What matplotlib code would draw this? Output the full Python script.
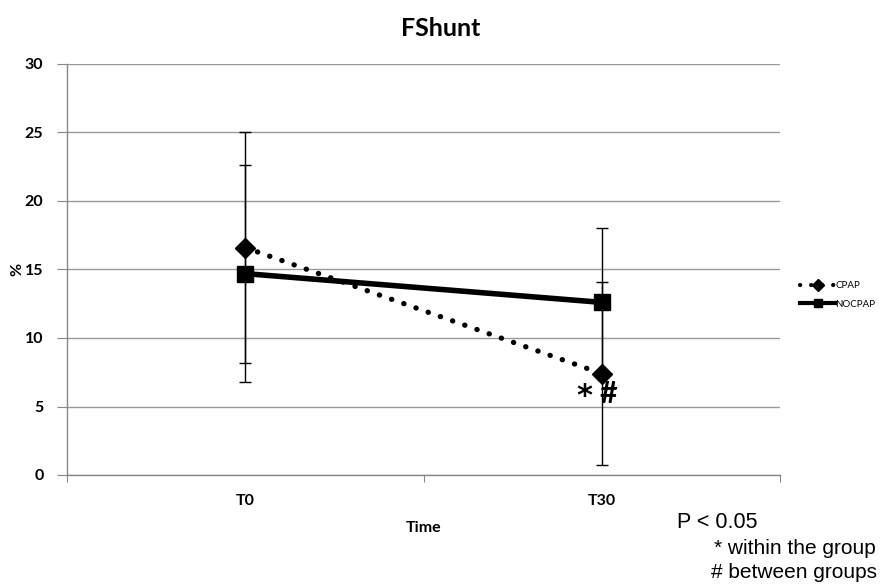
import matplotlib
matplotlib.use("Agg")
import matplotlib.pyplot as plt
from matplotlib.lines import Line2D
import numpy as np

categories = ["T0", "T30"]
cpap = [16.6, 7.4]
cpap_err = [8.4, 6.7]
nocpap = [14.7, 12.6]
nocpap_err = [7.9, 5.4]
yticks = [0, 5, 10, 15, 20, 25, 30]

plt.rcParams['font.family'] = ['Lato', 'DejaVu Sans']

fig = plt.figure(figsize=(8.82, 5.88), dpi=100)
ax = fig.add_axes([67 / 882, 1 - 475 / 588, (780 - 67) / 882, (475 - 64) / 588])

x = np.arange(len(categories)) + 0.5

dot_style = (0, (0.05, 2.4))
c1 = ax.errorbar(x, cpap, yerr=cpap_err, color='black', linestyle=dot_style,
                 linewidth=3.8, marker='D', markersize=10, ecolor='black', elinewidth=1,
                 capsize=4, capthick=1, zorder=3)
c1.lines[0].set_dash_capstyle('round')
ax.errorbar(x, nocpap, yerr=nocpap_err, color='black', linestyle='-',
            linewidth=4, marker='s', markersize=12, ecolor='black', elinewidth=1,
            capsize=4, capthick=1, zorder=3)

ax.set_xlim(0, 2)
ax.set_ylim(0, 30)
ax.set_yticks(yticks)
ax.set_yticklabels([str(v) for v in yticks], fontsize=11.5, fontweight='bold')
ax.set_xticks([0, 1, 2], minor=False)
ax.set_xticklabels([])
ax.set_xticks(x, minor=True)
ax.set_xticklabels(categories, minor=True, fontsize=11.5, fontweight='bold')
ax.tick_params(axis='x', which='minor', length=0, pad=14)
ax.tick_params(axis='x', which='major', length=5, color='#888888', direction='out')
ax.tick_params(axis='y', length=7, color='#888888', direction='out', pad=10)

ax.grid(axis='y', color='#999999', linewidth=1)
ax.set_axisbelow(True)
for s in ['top', 'right']:
    ax.spines[s].set_visible(False)
for s in ['left', 'bottom']:
    ax.spines[s].set_color('#888888')
    ax.spines[s].set_linewidth(1)

ax.set_xlabel('Time', fontsize=11.5, fontweight='bold', labelpad=9)
fig.text(17 / 882, 1 - 269 / 588, '%', rotation=90, fontsize=11.5, fontweight='bold',
         ha='center', va='center')
fig.text(441 / 882, 1 - 28 / 588, 'FShunt', ha='center', va='center', fontsize=18, fontweight='bold')

h1 = Line2D([], [], color='black', linestyle=(0, (0.05, 2.6)), linewidth=3, marker='D',
            markersize=6, dash_capstyle='round')
h2 = Line2D([], [], color='black', linestyle='-', linewidth=3, marker='s', markersize=6)
leg = fig.legend([h1, h2], ['CPAP', 'NOCPAP'], loc='center left',
                 bbox_to_anchor=(800 / 882, 1 - 295 / 588), frameon=False, fontsize=7,
                 handlelength=3.6, handletextpad=0.05, labelspacing=1.0, borderpad=0,
                 borderaxespad=0)

ax.text(x[1] - 0.05, 5.7, '*', fontsize=22, fontweight='bold', family='DejaVu Sans',
        ha='center', va='center')
ax.text(x[1] + 0.02, 5.9, '#', fontsize=22, fontweight='bold', ha='center', va='center')

fig.text(677 / 882, 1 - 522 / 588, 'P < 0.05', fontsize=15.5, family='Liberation Sans', va='center')
fig.text(876 / 882, 1 - 548 / 588, '* within the group', fontsize=15, family='Liberation Sans', va='center', ha='right')
fig.text(877 / 882, 1 - 573 / 588, '# between groups', fontsize=15, family='Liberation Sans', va='center', ha='right')

fig.savefig('out.png', dpi=100)
